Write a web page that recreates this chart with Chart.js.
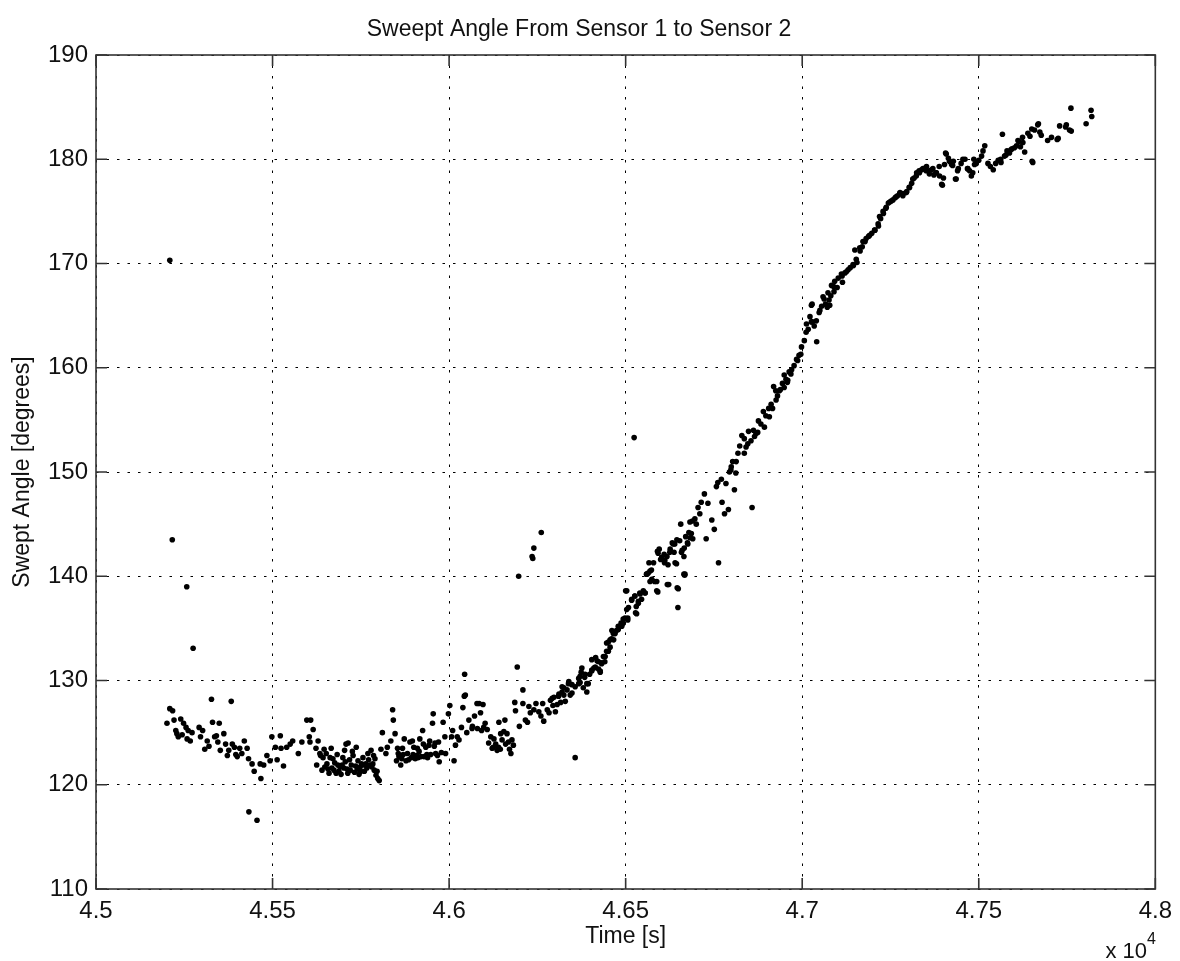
<!DOCTYPE html>
<html>
<head>
<meta charset="utf-8">
<script src="https://cdn.jsdelivr.net/npm/chart.js@4"></script>
<style>
html,body{margin:0;padding:0;background:#fff;}
canvas{display:block;}
</style>
</head>
<body>
<canvas id="c" width="1180" height="961"></canvas>
<script>
// Time [s] of each sample
const time = [
45209,45216,45257,45275,45433,45456,
45209,45217,45201,45221,45226,45233,45240,45248,45255,45261,45267,45292,45302,45308,45315,45327,45330,45336,45341,45349,45362,45367,45372,45383,45386,45392,45400,45407,45428,45432,45442,45448,45467,45465,45475,45484,45493,45498,45508,45513,45522,45524,45531,45540,45550,45557,45573,45583,45597,45608,45604,45615,45606,45623,45629,45634,45625,45643,45648,45654,45660,45666,45671,45680,45685,45691,45699,45704,45708,45713,45714,45723,45732,45737,45742,45748,45756,45764,45770,45779,45784,45788,45793,45798,45802,45807,45811,45821,45825,45835,45840,45842,45847,45854,45858,45863,45868,45873,45882,45889,45896,45904,45910,45917,45925,45929,45939,45945,45953,45955,45962,45970,45972,45983,45990,45998,46002,46007,46014,46018,46023,46035,46039,46044,46046,46056,46065,46079,46089,46098,
45640,45652,45668,45676,45694,45702,45718,45728,45745,45752,45760,45775,45790,45796,
45851,45866,45878,45893,45900,45912,45920,45934,45948,45958,
45229,45244,45258,45272,45296,45320,45345,45352,45376,45396,45413,45420,
45636,45646,45657,45663,45674,45683,45688,45697,45706,45711,45720,45726,45735,45740,45750,45758,45767,45772,45781,45786,
45856,45870,45885,45898,45908,45915,45927,45937,45943,45960,45967,45978,45988,
46010,46028,46050,46072,46092,46112,46125,46145,46155,46168,46175,
46261,46240,46235,46237,46197,46193,46043,46209,46357,46085,46096,46066,46080,46102,46108,46118,46122,46132,46136,46141,46150,46158,46164,46171,46178,46186,46188,46199,46209,46216,46226,46230,46246,46254,46265,46268,46278,46287,46294,46301,46310,46320,46329,46338,46348,46357,46367,46374,46384,46390,46394,46404,46415,46423,46432,46437,46446,46451,46461,46470,46479,46487,46498,46506,46503,46508,46517,46526,46528,46536,46545,46555,46559,46566,46573,46582,46588,46590,46599,46609,46618,46620,46632,46637,46646,46648,46656,46660,46665,46670,46679,46689,
46127,46140,46146,46160,46182,46222,46240,46260,46283,46297,46306,46316,46325,46343,46371,46380,46398,46410,46419,46428,46441,46456,46466,46474,46493,
46500,46503,46517,46526,46530,46536,46540,46555,46560,46569,46574,46579,46588,46591,46595,46602,46610,46617,46622,46626,46635,46640,46645,46649,46658,46668,46666,46675,46682,
46506,46489,46479,46465,46456,46446,46451,46442,46432,46423,46414,46404,46428,46404,46385,46376,46371,46390,46367,46348,46339,46334,46320,46325,46292,46311,
46524,46763,46858,46728,46744,46751,46773,46780,46791,46808,46761,46784,46803,46818,46829,46841,46855,46869,46883,46897,46912,46919,46930,46944,46954,46963,46977,46991,47006,47017,47029,47026,47041,47048,47062,47071,47081,47099,47114,
46460,46493,46531,46541,46550,46564,46569,46592,46602,46611,46625,46639,46644,46653,46665,46667,46676,46686,46696,46705,46714,46723,46733,46757,46771,
46798,46812,46823,46836,46848,46862,46876,46890,46905,46925,46938,46949,46958,46970,46984,46998,47011,47022,47034,47055,47076,47090,46700,46710,46690,46682,
46799,46794,46813,46836,46846,46865,46874,46893,46907,46916,46926,46935,46949,46959,46968,46987,46996,
47012,47026,47040,47028,47050,47059,47073,47078,47083,47092,47102,47111,47121,47130,47144,47153,47149,47163,47172,47181,47191,47205,47215,47219,47229,47238,47248,47257,47266,47276,47285,47295,47304,47313,47323,47332,47342,47351,47360,47370,47379,47389,47395,47403,47408,47417,47426,47436,47440,47455,47469,47483,47488,
47066,47089,47113,47136,47155,47164,47178,47197,47216,47230,47244,47263,47277,47296,47310,47324,47338,47352,47366,47380,47397,47406,47414,47423,47434,47442,47461,47468,47479,47493,47508,47517,47526,47541,47555,47567,47573,47587,47601,47611,47625,47630,47639,47651,47658,47667,47677,47695,47722,47729,47748,47762,47804,47820,47818,
47125,47145,47170,47188,47206,47222,47237,47252,47270,47286,47303,47317,47331,47345,47359,47373,47388,47400,47428,47450,47474,47486,47500,47512,47533,47548,47562,47580,47594,47607,47618,47645,
47761,47746,47757,47725,47706,47669,47673,47650,47624,47614,47591,47577,47563,47653
];
// Swept angle [degrees] of each sample
const angle = [
170.3,143.5,139.0,133.1,117.4,116.6,
127.3,127.1,125.9,126.2,125.2,124.6,126.3,125.9,125.5,125.2,124.2,125.5,125.2,123.4,124.2,128.2,126.0,124.6,124.7,125.9,124.9,123.9,122.8,128.0,123.9,123.6,122.7,123.5,123.5,122.5,122.0,121.3,120.6,122.0,121.9,122.8,122.3,124.6,123.6,122.4,124.7,123.5,121.8,123.6,123.9,124.2,123.0,124.1,126.2,126.2,124.6,125.3,124.1,123.5,124.2,123.0,121.9,122.6,121.7,122.0,121.1,123.5,122.5,121.1,121.9,121.7,122.6,123.3,123.9,121.1,124.0,121.9,121.2,123.6,122.3,121.7,122.6,122.0,123.0,123.3,122.0,121.4,120.9,120.6,120.4,123.4,125.0,123.0,123.6,124.2,127.2,126.2,124.9,123.5,122.7,121.9,123.5,124.4,123.0,124.1,124.2,122.5,123.5,124.4,125.2,122.7,122.6,124.2,125.9,126.8,123.0,124.1,122.2,126.0,123.0,126.8,127.6,124.6,122.3,123.8,124.6,125.5,127.4,130.6,128.6,126.2,125.4,127.8,126.9,125.5,
121.4,123.0,121.6,122.1,121.0,121.6,122.4,122.8,121.0,122.0,121.3,121.9,122.5,121.3,
122.3,122.5,122.3,122.6,123.6,122.6,122.7,123.6,122.9,123.7,
124.9,124.8,124.4,125.0,124.6,123.7,124.1,123.3,123.3,122.9,123.0,124.2,
122.8,123.4,121.5,122.6,121.4,122.9,121.3,121.9,122.2,121.5,121.4,123.2,121.8,121.5,121.3,121.9,121.6,122.4,121.7,122.8,
123.0,122.9,122.4,122.9,122.8,123.2,123.9,122.9,123.8,124.0,122.8,123.1,124.6,
125.2,124.3,125.0,126.6,125.2,124.0,123.6,123.4,125.1,124.1,123.0,
144.2,142.7,141.9,141.7,140.0,131.3,128.5,129.1,122.6,127.8,127.7,125.6,125.4,125.9,125.3,124.6,123.5,123.9,123.3,126.0,124.3,126.2,124.9,123.4,124.3,127.9,127.1,125.6,127.8,126.2,127.5,126.9,127.8,127.0,127.8,126.1,127.2,128.1,127.6,127.0,128.5,128.9,128.0,129.7,128.8,129.4,130.2,130.8,130.3,128.9,129.7,131.0,132.2,131.1,131.7,132.3,132.8,133.7,134.8,134.5,135.2,135.5,136.0,135.8,138.6,137.0,137.8,138.1,136.5,137.4,137.8,138.4,140.2,141.3,140.6,139.5,138.6,142.4,141.6,142.1,139.2,141.1,143.2,142.3,138.9,137.0,145.0,142.5,140.2,143.8,144.2,145.3,
124.4,123.6,124.9,123.9,123.8,126.0,127.2,126.6,126.9,128.4,127.7,127.9,129.3,128.6,129.8,129.3,130.6,131.2,131.9,130.9,131.8,133.2,133.9,134.8,135.9,
138.6,136.8,137.7,138.1,137.1,137.6,138.4,138.4,140.2,140.5,139.7,141.3,139.5,138.5,142.6,141.8,141.3,141.9,139.2,142.6,143.1,141.3,143.5,138.8,142.3,140.2,142.7,143.2,143.7,
136.0,135.2,134.9,134.5,133.9,133.6,132.8,132.3,131.6,131.8,131.3,132.0,130.8,130.9,130.6,131.2,130.4,129.7,129.7,129.6,129.9,129.1,129.4,128.6,128.3,128.7,
153.3,141.3,146.6,143.6,145.4,144.5,147.1,146.0,146.4,148.3,149.0,148.9,151.0,151.8,153.5,152.4,153.0,153.7,154.6,155.4,156.5,158.2,157.3,158.5,158.9,159.6,160.2,161.2,162.6,163.7,164.4,166.0,162.5,165.3,166.6,165.8,166.9,167.7,168.2,
134.0,135.5,136.4,138.3,138.6,140.3,139.5,142.2,141.8,141.5,142.3,143.1,141.2,143.4,141.9,140.1,143.1,144.1,145.5,146.6,147.1,147.9,147.0,148.6,149.3,
150.2,149.9,152.5,153.2,153.9,154.0,154.9,155.8,156.1,157.8,157.9,159.3,158.6,159.8,160.8,162.0,163.4,164.9,164.0,165.9,166.5,167.3,145.0,146.0,143.6,145.2,
150.5,150.0,151.0,151.8,152.7,153.4,153.8,154.3,155.3,156.1,156.9,157.8,158.1,158.8,159.4,160.7,161.3,
164.2,164.4,164.5,166.1,165.5,166.8,167.2,166.0,167.9,168.3,168.6,169.0,169.1,169.4,169.9,170.4,171.3,171.5,172.1,172.4,172.7,173.2,173.8,174.5,175.0,175.4,175.9,176.1,176.4,176.7,176.5,176.8,177.3,178.1,178.4,178.7,179.1,178.9,178.6,179.1,178.7,178.4,177.6,179.5,180.5,179.8,179.4,178.1,178.9,180.0,179.1,178.7,179.5,
166.1,167.8,168.8,169.6,170.1,171.2,172.1,172.9,173.6,174.8,175.8,176.3,176.8,176.9,177.7,178.7,179.0,179.3,179.0,178.7,177.5,180.6,180.1,179.5,178.1,179.1,180.0,179.1,178.4,179.6,180.3,181.3,179.6,179.0,179.9,182.4,180.3,180.6,181.1,181.8,181.6,180.7,182.5,179.8,182.8,183.3,182.3,181.8,181.9,183.2,183.3,182.7,183.4,184.1,184.7,
169.2,169.8,171.6,172.6,173.2,174.3,175.3,176.0,176.5,176.7,177.3,178.2,178.9,179.1,178.9,178.5,179.3,178.2,179.8,179.6,178.9,180.0,179.9,180.8,179.3,179.6,180.0,180.8,181.0,181.3,181.2,182.2,
184.9,183.1,182.8,182.0,182.1,183.4,182.6,182.9,182.1,181.7,180.9,180.4,179.7,179.7
];
const xTickValues = [45000,45500,46000,46500,47000,47500,48000];
const xTickLabels = ['4.5','4.55','4.6','4.65','4.7','4.75','4.8'];
const yTickValues = [110,120,130,140,150,160,170,180,190];

const FONT = 'Liberation Sans, Arial, Helvetica, sans-serif';
const TXT = '#111';

const frame = {
  id: 'frame',
  afterDraw(chart) {
    const {ctx, chartArea: {left, right, top, bottom}, scales: {x, y}} = chart;
    ctx.save();
    ctx.strokeStyle = '#333';
    ctx.lineWidth = 1.6;
    ctx.setLineDash([]);
    ctx.strokeRect(left, top, right - left, bottom - top);
    const L = 11;
    ctx.beginPath();
    x.ticks.forEach(t => {
      const p = x.getPixelForValue(t.value);
      ctx.moveTo(p, bottom); ctx.lineTo(p, bottom - L);
      ctx.moveTo(p, top); ctx.lineTo(p, top + L);
    });
    y.ticks.forEach(t => {
      const p = y.getPixelForValue(t.value);
      ctx.moveTo(left, p); ctx.lineTo(left + L, p);
      ctx.moveTo(right, p); ctx.lineTo(right - L, p);
    });
    ctx.stroke();
    // axis exponent
    ctx.fillStyle = TXT;
    ctx.font = '22px ' + FONT;
    ctx.textAlign = 'right';
    ctx.textBaseline = 'alphabetic';
    ctx.fillText('x 10', 1147, 958);
    ctx.font = '16px ' + FONT;
    ctx.textAlign = 'left';
    ctx.fillText('4', 1147, 944);
    ctx.restore();
  }
};

new Chart(document.getElementById('c'), {
  type: 'scatter',
  data: {
    datasets: [{
      data: time.map((t, i) => ({x: t, y: angle[i]})),
      pointRadius: 2.8,
      pointHoverRadius: 2.8,
      pointBackgroundColor: '#000',
      pointBorderWidth: 0,
      showLine: false
    }]
  },
  options: {
    responsive: false,
    animation: false,
    events: [],
    layout: {padding: {left: 0, right: 22, top: 0, bottom: 0}},
    plugins: {
      legend: {display: false},
      tooltip: {enabled: false},
      title: {
        display: true,
        text: 'Sweept Angle From Sensor 1 to Sensor 2',
        color: TXT,
        font: {family: FONT, size: 23, weight: 'normal'},
        padding: {top: 16, bottom: 11.4}
      }
    },
    scales: {
      x: {
        type: 'linear',
        min: xTickValues[0],
        max: xTickValues[xTickValues.length - 1],
        afterBuildTicks(s) { s.ticks = xTickValues.map(v => ({value: v})); },
        ticks: {
          padding: 8,
          color: TXT,
          font: {family: FONT, size: 24},
          maxRotation: 0,
          autoSkip: false,
          callback: (v) => xTickLabels[xTickValues.indexOf(v)]
        },
        grid: {color: '#000', lineWidth: 1, drawTicks: false},
        border: {display: false, dash: [2.5, 8]},
        title: {
          display: true,
          text: 'Time [s]',
          color: TXT,
          font: {family: FONT, size: 23},
          padding: {top: 0, bottom: 11}
        },
        afterFit(s) { s.height = 72; }
      },
      y: {
        type: 'linear',
        min: yTickValues[0],
        max: yTickValues[yTickValues.length - 1],
        afterBuildTicks(s) { s.ticks = yTickValues.map(v => ({value: v})); },
        ticks: {
          padding: 8,
          color: TXT,
          font: {family: FONT, size: 24},
          autoSkip: false,
          callback: (v) => String(v)
        },
        grid: {color: '#000', lineWidth: 1, drawTicks: false},
        border: {display: false, dash: [2.5, 8]},
        title: {
          display: true,
          text: 'Swept Angle [degrees]',
          color: TXT,
          font: {family: FONT, size: 23},
          padding: {top: 9, bottom: 0}
        },
        afterFit(s) { s.width = 96; }
      }
    }
  },
  plugins: [frame]
});
</script>
</body>
</html>
